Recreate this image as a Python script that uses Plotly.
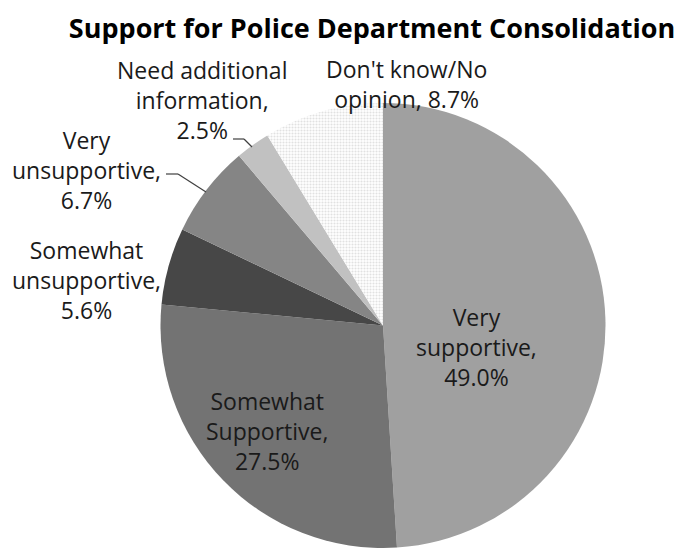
import plotly.graph_objects as go

categories = ["Very supportive", "Somewhat Supportive", "Somewhat unsupportive",
              "Very unsupportive", "Need additional information", "Don't know/No opinion"]
values = [49.0, 27.5, 5.6, 6.7, 2.5, 8.7]
label_text = ["Very<br>supportive,<br>49.0%", "Somewhat<br>Supportive,<br>27.5%",
              "Somewhat<br>unsupportive,<br>5.6%", "Very<br>unsupportive,<br>6.7%",
              "Need additional<br>information,<br>2.5%", "Don't know/No<br>opinion, 8.7%"]
colors = ["#a0a0a0", "#737373", "#474747", "#858585", "#c1c1c1", "#ffffff"]
patterns = ["", "", "", "", "", "."]

W, H = 685, 548
FONT = "Open Sans, sans-serif"

fig = go.Figure(go.Pie(
    labels=categories, values=values, sort=False, direction="clockwise", rotation=0,
    marker=dict(colors=colors, line=dict(width=0),
                pattern=dict(shape=patterns, fgcolor="#c4c4c4", bgcolor="#ffffff",
                             size=3, solidity=0.4, fillmode="overlay")),
    textinfo="none", textposition="none", showlegend=False, hoverinfo="label+percent",
    domain=dict(x=[160 / W, 606 / W], y=[0, 445 / H]),
))

# label positions in pixels (center x, center y)
label_pos = [(476, 347), (267, 431), (86, 280), (86, 170), (202, 100), (406, 84)]
annotations = []
for txt, (px, py) in zip(label_text, label_pos):
    annotations.append(dict(x=px / W, y=1 - py / H, xref="paper", yref="paper",
                            xanchor="center", yanchor="middle",
                            text=txt, showarrow=False, align="center",
                            font=dict(family=FONT, size=23, color="#1a1a1a")))

def seg(x0, y0, x1, y1):
    return dict(type="line", xref="paper", yref="paper",
                x0=x0 / W, y0=1 - y0 / H, x1=x1 / W, y1=1 - y1 / H,
                line=dict(color="#404040", width=1.2))

shapes = [seg(166, 174, 178, 174), seg(178, 174, 206, 192),
          seg(233, 139, 244, 139), seg(244, 139, 252, 147)]

fig.update_layout(
    width=W, height=H, margin=dict(l=0, r=0, t=0, b=0),
    paper_bgcolor="white", plot_bgcolor="white",
    title=dict(text="<b>Support for Police Department Consolidation</b>",
               x=372 / W, xanchor="center", y=1 - 29 / H, yanchor="middle",
               font=dict(family=FONT, size=27, color="#000000")),
    annotations=annotations, shapes=shapes,
)

fig.write_html("out.html")
